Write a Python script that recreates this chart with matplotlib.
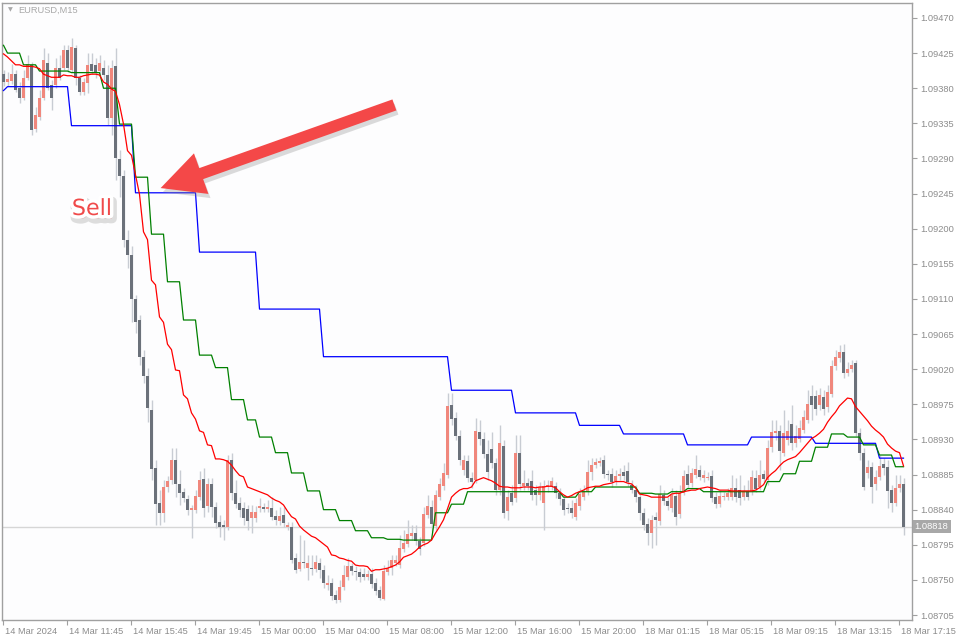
import numpy as np
import pandas as pd
import matplotlib
matplotlib.use("Agg")
import matplotlib.pyplot as plt
import matplotlib.patheffects as pe
import matplotlib.transforms as mtransforms
from matplotlib.patches import FancyArrowPatch

# ---------------- data (prices in points of 1e-5 above 1.08000) ----------------
BASE = 1.08000
symbol_title = "EURUSD,M15"

open_pts = [1398,1388,1389,1398,1380,1368,1393,1410,1328,1343,1368,1412,1384,1384,1406,1406,1429,1403,1432,1393,
            1375,1387,1411,1410,1402,1406,1397,1342,1408,1289,1268,1186,1166,1110,1083,1036,1011,968,893,849,
            836,869,878,904,873,863,854,840,840,856,879,845,873,843,824,820,818,904,861,849,
            842,841,829,829,842,843,841,842,832,826,833,818,818,778,764,773,765,765,764,772,
            763,744,746,731,724,741,754,768,761,760,758,754,758,746,737,726,760,765,772,769,
            790,796,806,810,800,797,833,843,819,856,870,884,974,958,934,891,902,881,878,940,
            931,911,918,900,865,922,838,861,855,913,870,874,877,865,859,849,869,869,870,861,
            854,842,842,831,845,856,863,888,897,900,904,886,886,877,883,888,890,872,865,856,
            836,822,810,831,826,859,851,842,858,835,861,886,874,884,891,881,881,883,856,847,
            856,856,856,868,865,856,864,863,881,869,886,878,920,938,941,913,929,950,925,931,
            942,955,986,986,974,984,972,988,1024,1034,1042,1015,1020,1028,938,913,887,895,873,882,
            899,895,865,849,868,873]
high_pts = [1403,1401,1411,1403,1388,1403,1423,1414,1356,1378,1432,1425,1391,1419,1423,1435,1435,1444,1435,1397,
            1393,1425,1425,1419,1423,1416,1410,1416,1432,1301,1275,1198,1178,1115,1090,1045,1022,981,904,865,
            878,883,919,919,891,868,859,846,865,890,893,881,881,850,833,827,910,913,878,856,
            850,846,846,845,855,849,852,856,840,843,843,824,824,785,808,801,782,782,782,778,
            769,756,752,737,750,769,778,772,768,765,765,763,765,752,742,769,776,782,782,808,
            814,827,820,820,805,843,859,852,865,881,900,990,990,965,942,910,910,888,958,955,
            940,929,940,906,949,929,865,872,936,936,891,881,891,872,876,878,878,882,876,868,
            859,849,852,855,868,872,904,906,906,908,910,891,893,891,893,897,901,878,872,861,
            842,829,833,837,872,865,856,868,865,872,891,897,893,910,897,891,888,891,863,865,
            863,868,884,881,884,872,878,891,891,904,891,929,955,955,949,968,955,974,949,955,
            968,993,1000,993,996,993,1000,1032,1045,1051,1052,1029,1032,1032,945,919,904,901,891,910,
            906,904,872,884,884,881]
low_pts = [1383,1383,1386,1375,1361,1365,1391,1320,1324,1339,1365,1378,1352,1380,1391,1403,1401,1401,1384,1371,
           1371,1374,1398,1393,1396,1391,1333,1320,1262,1241,1177,1150,1080,1066,1025,1002,952,878,820,820,
           824,863,873,856,846,850,833,804,836,852,831,837,831,817,805,801,814,852,842,831,
           820,814,810,824,837,837,837,827,820,820,818,814,772,759,761,765,750,756,760,752,
           740,737,724,720,722,737,750,756,750,747,750,750,740,731,724,724,756,756,768,765,
           786,792,801,795,782,794,829,811,814,852,865,881,949,929,897,884,876,868,874,923,
           906,878,893,859,859,829,827,846,850,865,865,865,852,846,852,814,863,865,855,846,
           833,836,829,827,840,852,859,878,893,896,881,878,869,872,878,878,870,861,850,827,
           814,795,791,795,820,846,840,837,820,829,859,868,869,881,878,876,878,850,842,843,
           852,852,852,850,846,852,852,859,863,865,876,872,914,929,891,909,923,917,920,927,
           938,951,955,961,968,961,965,984,1019,1029,1009,1011,1016,934,904,865,881,849,865,878,
           884,842,837,845,863,808]
close_pts = [1388,1392,1398,1378,1368,1393,1411,1327,1346,1368,1416,1380,1368,1406,1393,1429,1406,1433,1393,1375,
             1388,1410,1402,1401,1412,1397,1342,1406,1291,1268,1186,1166,1110,1080,1036,1011,970,892,847,836,
             869,877,904,873,861,855,840,842,858,878,842,873,843,823,818,818,904,861,847,840,
             829,826,837,837,845,841,843,831,827,832,823,820,776,763,773,772,772,764,773,763,
             746,746,729,724,741,756,768,761,760,754,754,758,745,736,727,761,765,776,776,791,
             797,809,810,800,790,835,845,822,859,873,887,973,956,934,904,904,881,876,941,931,
             911,888,900,865,925,836,856,850,913,873,874,870,859,859,869,870,872,877,861,854,
             840,841,836,849,860,864,888,897,901,902,886,884,876,883,886,883,876,865,856,836,
             820,810,827,827,860,851,845,859,831,861,883,872,887,892,882,884,882,855,847,858,
             858,861,868,856,855,864,856,882,867,884,879,919,940,941,915,938,941,925,934,945,
             959,975,974,969,987,969,991,1024,1036,1042,1015,1020,1025,938,913,869,895,869,882,896,
             893,864,849,868,873,818]

# indicator lines (points above 1.08000)
red_pts = [1424,1420,1415,1410,1410,1408,1408,1408,1407,1405,1398,1396,1394,1394,1394,1397,1396,1396,1394,1394,
           1396,1397,1398,1398,1397,1388,1385,1379,1376,1359,1334,1300,1294,1269,1244,1196,1186,1134,1128,1087,
           1080,1052,1045,1019,1018,987,982,964,956,941,939,923,922,905,905,904,902,897,890,884,
           882,869,867,865,863,861,859,855,852,850,846,838,831,828,819,814,810,806,804,800,
           796,792,782,781,778,777,775,774,769,768,768,767,761,763,763,764,765,767,769,773,
           779,781,783,787,792,795,797,801,810,818,827,841,856,861,865,867,867,869,877,879,
           881,879,877,874,870,869,869,868,868,868,869,869,869,868,869,869,870,870,868,863,
           859,856,858,861,863,865,868,869,870,870,872,873,874,876,876,876,874,873,868,860,
           859,858,856,856,856,856,856,860,861,861,863,864,865,865,867,868,869,868,867,865,
           865,865,864,864,864,864,864,864,865,868,872,881,886,890,896,901,904,906,908,913,
           919,925,931,934,938,943,952,959,965,973,978,983,982,972,966,960,954,947,942,938,
           933,924,919,915,913,896]
green_hourly_pts = [1435,1425,1410,1402,1402,1400,1400,1380,1334,1266,1193,1132,1083,1038,1022,981,955,
                    933,913,887,864,840,826,813,804,802,801,801,836,847,863,863,863,863,863,863,856,863,869,869,
                    869,861,860,863,867,863,863,863,863,876,886,902,920,937,933,923,910,895]
blue_h4_pts = [1377,1382,1332,1246,1170,1097,1036,1036,993,964,948,937,923,933,925,906]

last_price = 1.08818

x_tick_labels = ["14 Mar 2024", "14 Mar 11:45", "14 Mar 15:45", "14 Mar 19:45", "15 Mar 00:00",
                 "15 Mar 04:00", "15 Mar 08:00", "15 Mar 12:00", "15 Mar 16:00", "15 Mar 20:00",
                 "18 Mar 01:15", "18 Mar 05:15", "18 Mar 09:15", "18 Mar 13:15", "18 Mar 17:15"]
y_ticks = [1.08705, 1.08750, 1.08795, 1.08840, 1.08885, 1.08930, 1.08975, 1.09020, 1.09065,
           1.09110, 1.09155, 1.09200, 1.09245, 1.09290, 1.09335, 1.09380, 1.09425, 1.09470]

# ---------------- bar times (M15, with session gaps) ----------------
times = pd.DatetimeIndex(
    list(pd.date_range("2024-03-14 07:45", "2024-03-14 23:30", freq="15min"))
    + list(pd.date_range("2024-03-15 00:00", "2024-03-15 22:30", freq="15min"))
    + list(pd.date_range("2024-03-18 00:00", "2024-03-18 17:30", freq="15min")))
n = len(times)

to_price = lambda a: BASE + np.asarray(a, dtype=float) * 1e-5
o, h, l, c = map(to_price, (open_pts, high_pts, low_pts, close_pts))
red = to_price(red_pts)
green = to_price(green_hourly_pts)[pd.factorize(times.floor("h"))[0]]
blue = to_price(blue_h4_pts)[pd.factorize(times.floor("4h"))[0]]
x = np.arange(n)

# ---------------- figure ----------------
plt.rcParams["font.family"] = ["Liberation Sans", "DejaVu Sans"]
fig = plt.figure(figsize=(9.6, 6.4), dpi=100, facecolor="white")
ax = fig.add_axes([2 / 960, 20 / 640, 910 / 960, 617 / 640])
ax.set_facecolor("#FDFDFE")
ax.set_xlim(-0.375, 227.125)
ax.set_ylim(1.086986, 1.094892)

bull_c, bear_c, wick_c = "#F0877C", "#6B717A", "#C8CCD3"
ax.axhline(last_price, color="#D6D6D6", lw=1.0, zorder=1)
ax.vlines(x, l, h, color=wick_c, lw=1.0, zorder=2)
bull = c >= o
ax.bar(x, np.maximum(np.abs(c - o), 1.2e-5), bottom=np.minimum(o, c), width=0.72,
       color=np.where(bull, bull_c, bear_c), linewidth=0, zorder=3)

ax.plot(x, blue, color="#0000FF", lw=0.9, zorder=4)
ax.plot(x, green, color="#008000", lw=0.9, zorder=5)
ax.plot(x, red, color="#FF0000", lw=0.9, zorder=6)

# axes styling
for s in ax.spines.values():
    s.set_color("#A0A0A0")
    s.set_linewidth(1.0)
ax.yaxis.tick_right()
ax.set_yticks(y_ticks)
ax.set_yticklabels([f"{v:.5f}" for v in y_ticks])
ax.tick_params(axis="y", direction="out", length=3.5, width=0.8, color="#A0A0A0",
               labelsize=6.7, labelcolor="#8C8C8C", pad=2.5)
tick_bars = np.arange(0, n, 16)
ax.set_xticks(tick_bars - 0.15)
ax.set_xticklabels(x_tick_labels)
ax.tick_params(axis="x", direction="out", length=3.5, width=0.8, color="#A0A0A0",
               labelsize=6.7, labelcolor="#8C8C8C", pad=1.5)
off = mtransforms.ScaledTranslation(1.5 / 72, 0, fig.dpi_scale_trans)
for lab in ax.get_xticklabels():
    lab.set_horizontalalignment("left")
    lab.set_transform(lab.get_transform() + off)

# current price tag
ax.text(1.003, last_price, f"{last_price:.5f}", transform=ax.get_yaxis_transform(),
        color="white", fontsize=6.7, va="center", ha="left", clip_on=False,
        bbox=dict(boxstyle="square,pad=0.22", fc="#A8A8A8", ec="none"))

# title
fig.text(8 / 960, 1 - 10 / 640, "\u25BC", fontsize=4.5, color="#A8A8A8", va="center",
         family="DejaVu Sans")
fig.text(18 / 960, 1 - 10 / 640, symbol_title, fontsize=6.7, color="#A8A8A8", va="center")

# arrow annotation
arrow = FancyArrowPatch((397 / 960, 1 - 104 / 640), (158 / 960, 1 - 189 / 640),
                        transform=fig.transFigure,
                        arrowstyle="simple,head_length=1.55,head_width=1.55,tail_width=0.42",
                        mutation_scale=20, color="#F44848", lw=0,
                        path_effects=[pe.SimplePatchShadow(offset=(1.5, -3), shadow_rgbFace="#888888",
                                                           alpha=0.3), pe.Normal()])
fig.add_artist(arrow)

fig.text(92 / 960, 1 - 209 / 640, "Sell", fontsize=16, color="#F04A4A", ha="center", va="center",
         family="DejaVu Sans",
         path_effects=[pe.Stroke(linewidth=7, foreground="#C8C8C8", offset=(1.5, -2.5), alpha=0.6),
                       pe.Stroke(linewidth=5, foreground="white"), pe.Normal()])

fig.savefig("out.png", dpi=100, facecolor="white")
